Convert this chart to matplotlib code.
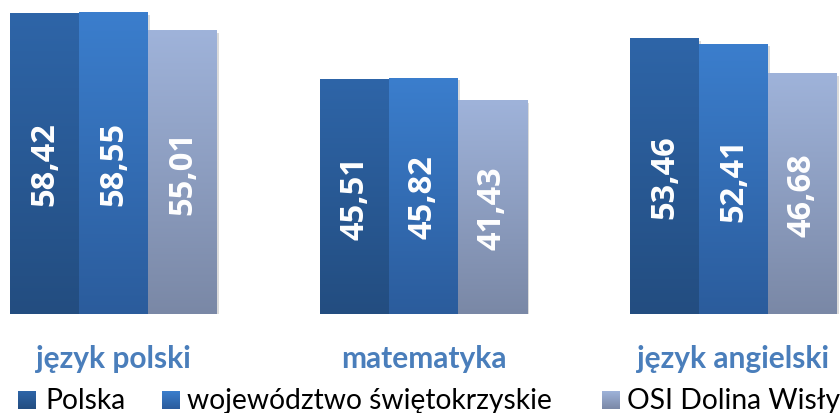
import matplotlib
matplotlib.use("Agg")
import matplotlib.pyplot as plt
import numpy as np
from matplotlib.colors import LinearSegmentedColormap
from matplotlib.patches import Rectangle

categories = ["język polski", "matematyka", "język angielski"]
series = ["Polska", "województwo świętokrzyskie", "OSI Dolina Wisły"]
polska = [58.42, 45.51, 53.46]
wojewodztwo = [58.55, 45.82, 52.41]
osi = [55.01, 41.43, 46.68]

# (bottom colour, top colour) for each series
grads = [("#234d80", "#2e65a8"), ("#2b5c9c", "#3b7ecd"), ("#7a88a6", "#9fb3da")]

plt.rcParams["font.family"] = ["Lato", "DejaVu Sans"]

fig = plt.figure(figsize=(8.4, 4.14), dpi=100)
base = 99 / 414
ax = fig.add_axes([0, base, 1, 1 - base])
ax.axis("off")

width = 69 / 310
xs = np.arange(len(categories))
grad = np.linspace(0, 1, 256).reshape(-1, 1)

for k, vals in enumerate([polska, wojewodztwo, osi]):
    cmap = LinearSegmentedColormap.from_list("g%d" % k, list(grads[k]))
    for i, v in enumerate(vals):
        x0 = xs[i] + (k - 1.5) * width
        # soft shadow
        ax.add_patch(Rectangle((x0 + 0.008, -0.4), width, v, color="#b0b0b0",
                               alpha=0.45, zorder=1, lw=0))
        ax.imshow(grad, extent=[x0, x0 + width, 0, v], origin="lower",
                  aspect="auto", cmap=cmap, zorder=2 + k * 0.1)
        ax.text(x0 + width / 2, v / 2, f"{v:.2f}".replace(".", ","),
                rotation=90, ha="center", va="center", color="white",
                fontsize=23.5, fontweight="bold", family="Open Sans", zorder=5)

ax.set_xlim((0 - 113.5) / 310, (840 - 113.5) / 310)
ax.set_ylim(0, 315 / 5.15)

for i, c in enumerate(categories):
    fig.text((113.5 + 310 * i) / 840, 1 - 368 / 414, c, ha="center",
             va="baseline", color="#4a7ebb", fontsize=21.5, fontweight="bold")

# legend
leg_x = [18, 162, 602]
txt_x = [45, 187, 627]
for k, name in enumerate(series):
    cmap = LinearSegmentedColormap.from_list("l%d" % k, list(grads[k]))
    lax = fig.add_axes([leg_x[k] / 840, (414 - 410) / 414, 18 / 840, 18 / 414])
    lax.imshow(grad, origin="lower", aspect="auto", cmap=cmap)
    lax.axis("off")
    fig.text(txt_x[k] / 840, 1 - 409 / 414, name, ha="left",
             va="baseline", color="black", fontsize=20.3)

fig.savefig("out.png", dpi=100)
